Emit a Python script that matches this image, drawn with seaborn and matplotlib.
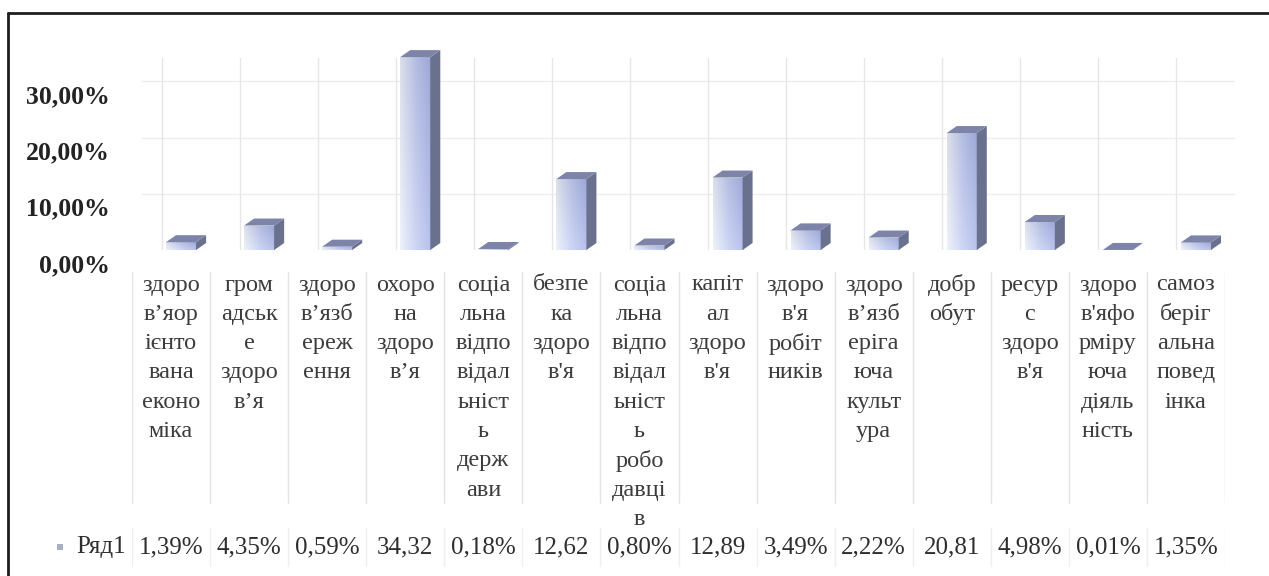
import numpy as np
import matplotlib
matplotlib.use("Agg")
import matplotlib.pyplot as plt
import matplotlib.transforms as mtransforms
from matplotlib.patches import Polygon, Rectangle
from matplotlib.lines import Line2D
import seaborn as sns
import pandas as pd

# ---- data -------------------------------------------------------------
categories = [
    "здоров’яорієнтована економіка",
    "громадське здоров’я",
    "здоров’язбереження",
    "охорона здоров’я",
    "соціальна відповідальність держави",
    "безпека здоров'я",
    "соціальна відповідальність роботодавців",
    "капітал здоров'я",
    "здоров'я робітників",
    "здоров’язберігаюча культура",
    "добробут",
    "ресурс здоров'я",
    "здоров'яформіруюча діяльність",
    "самозберігальна поведінка",
]
# category names as they wrap inside the narrow table cells
category_lines = [
    ["здоро", "в’яор", "ієнто", "вана", "еконо", "міка"],
    ["гром", "адськ", "е", "здоро", "в’я"],
    ["здоро", "в’язб", "ереж", "ення"],
    ["охоро", "на", "здоро", "в’я"],
    ["соціа", "льна", "відпо", "відал", "ьніст", "ь", "держ", "ави"],
    ["безпе", "ка", "здоро", "в'я"],
    ["соціа", "льна", "відпо", "відал", "ьніст", "ь", "робо", "давці", "в"],
    ["капіт", "ал", "здоро", "в'я"],
    ["здоро", "в'я", "робіт", "ників"],
    ["здоро", "в’язб", "еріга", "юча", "культ", "ура"],
    ["добр", "обут"],
    ["ресур", "с", "здоро", "в'я"],
    ["здоро", "в'яфо", "рміру", "юча", "діяль", "ність"],
    ["самоз", "беріг", "альна", "повед", "інка"],
]
values = [1.39, 4.35, 0.59, 34.32, 0.18, 12.62, 0.80,
          12.89, 3.49, 2.22, 20.81, 4.98, 0.01, 1.35]
series_name = "Ряд1"
y_ticks = [0, 10, 20, 30]

df = pd.DataFrame({"category": categories, "value": values})

# ---- style ------------------------------------------------------------
sns.set_style("white")
plt.rcParams["font.family"] = ["Liberation Serif", "DejaVu Serif"]

W, H = 1269, 576
fig = plt.figure(figsize=(W / 100, H / 100), dpi=100)
fig.patch.set_facecolor("white")


def fx(px):
    return px / W


def fy(py):
    return 1 - py / H


# table area below the plot (data y in pixels from the top)
tbl = fig.add_axes([fx(132), 0, fx(1225) - fx(132), 1], zorder=0)
tbl.set_xlim(-0.5, 13.5)
tbl.set_ylim(H, 0)
tbl.axis("off")

# plot area
ax = fig.add_axes([fx(142), fy(250), fx(1235) - fx(142), fy(48) - fy(250)], zorder=1)
ax.patch.set_alpha(0)

sns.barplot(data=df, x="category", y="value", ax=ax, color="#b9c5f0",
            width=0.385, saturation=1, order=categories)

ymax = 35.94
ax.set_xlim(-0.5, 13.5)
ax.set_ylim(0, ymax)

# faint back-wall grid
for t in y_ticks[1:]:
    ax.axhline(t, color="#ededed", lw=1.0, zorder=0)
for k in range(len(categories)):
    ax.axvline(k - 0.25, ymin=0.0, ymax=0.95, color="#e6e6e6", lw=1.0, zorder=0)

# pseudo-3D faces and gradient fill for each bar
px_x = 78.0                      # pixels per category
px_y = 202.0 / ymax              # pixels per percent
dx = 10.0 / px_x
dy = 7.0 / px_y

horiz = np.linspace(0, 1, 64)
c_left = np.array([0.93, 0.95, 0.99])
c_mid = np.array([0.77, 0.81, 0.96])
c_right = np.array([0.66, 0.71, 0.92])
row = np.where(horiz[:, None] < 0.5,
               c_left + (c_mid - c_left) * (horiz[:, None] / 0.5),
               c_mid + (c_right - c_mid) * ((horiz[:, None] - 0.5) / 0.5))
vert = np.linspace(0, 1, 64)[:, None, None]          # 0 = bottom, 1 = top
grad = row[None, :, :] * (0.80 + 0.20 * vert) + (1 - (0.80 + 0.20 * vert)) * 0.55
grad = grad * (0.92 + 0.08 * (1 - vert)) + 0.08 * (1 - vert) * 1.0
grad = np.clip(grad[::-1], 0, 1)

for p in list(ax.patches):
    x0 = p.get_x()
    w = p.get_width()
    h = p.get_height()
    x1 = x0 + w
    im = ax.imshow(grad, extent=(x0, x1, 0, h), aspect="auto",
                   interpolation="bilinear", zorder=2)
    im.set_clip_path(p)
    p.set_edgecolor("none")
    side = Polygon([(x1, 0), (x1 + dx, dy), (x1 + dx, h + dy), (x1, h)],
                   closed=True, facecolor="#69718f", edgecolor="none", zorder=3)
    top = Polygon([(x0, h), (x0 + dx, h + dy), (x1 + dx, h + dy), (x1, h)],
                  closed=True, facecolor="#7d84a8", edgecolor="none", zorder=3)
    ax.add_patch(side)
    ax.add_patch(top)

ax.set_xlim(-0.5, 13.5)
ax.set_ylim(0, ymax)

# y axis labels
ax.set_yticks(y_ticks)
ax.set_yticklabels([f"{t:.2f}".replace(".", ",") + "%" for t in y_ticks],
                   fontsize=18.5, fontweight="bold", color="#222222")
ax.tick_params(axis="y", length=0, pad=23)
shift = mtransforms.ScaledTranslation(0, -0.13, fig.dpi_scale_trans)
for lab in ax.get_yticklabels():
    lab.set_transform(lab.get_transform() + shift)
ax.set_xticks([])
ax.set_xlabel("")
ax.set_ylabel("")
for s in ax.spines.values():
    s.set_visible(False)

# data table: category names, separators, values
for k in range(len(categories) + 1):
    tbl.plot([k - 0.5, k - 0.5], [272, 503], color="#e3e3e3", lw=1.0)
    tbl.plot([k - 0.5, k - 0.5], [528, 566], color="#efefef", lw=1.0)

line_step = 29.3
for k, lines in enumerate(category_lines):
    for j, s in enumerate(lines):
        tbl.text(k, 285 + j * line_step, s, ha="center", va="center",
                 fontsize=17.5, color="#3c3c3c")

for k, v in enumerate(values):
    txt = f"{v:.2f}".replace(".", ",") + ("%" if v < 10 else "")
    tbl.text(k, 547, txt, ha="center", va="center", fontsize=18, color="#2e2e2e")

fig.text(fx(101), fy(547), series_name, ha="center", va="center",
         fontsize=18, color="#2e2e2e")
fig.patches.append(Rectangle((fx(57), fy(550)), 6 / W, 6 / H,
                             transform=fig.transFigure, facecolor="#a9b0c6",
                             edgecolor="none"))

# outer frame
fig.lines.append(Line2D([fx(8), fx(8)], [fy(13), 0], transform=fig.transFigure,
                        color="#1e1e1e", lw=2.0))
fig.lines.append(Line2D([fx(8), 1], [fy(13), fy(13)], transform=fig.transFigure,
                        color="#1e1e1e", lw=2.0))

fig.savefig("out.png", dpi=100, facecolor="white")
